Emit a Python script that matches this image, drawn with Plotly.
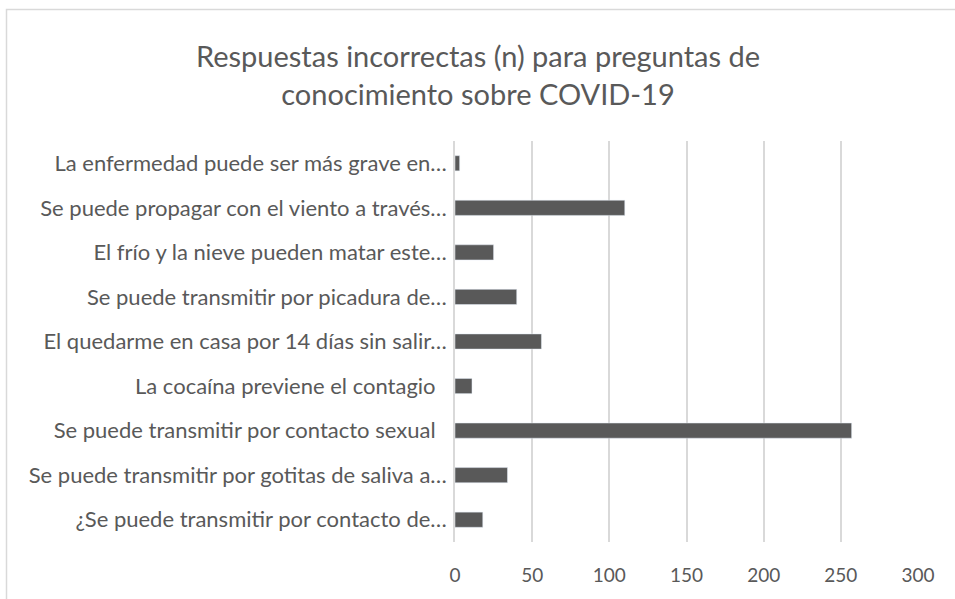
import plotly.graph_objects as go

categories = [
    "¿Se puede transmitir por contacto de…",
    "Se puede transmitir por gotitas de saliva a…",
    "Se puede transmitir por contacto sexual\u00a0\u00a0",
    "La cocaína previene el contagio\u00a0\u00a0",
    "El quedarme en casa por 14 días sin salir…",
    "Se puede transmitir por picadura de…",
    "El frío y la nieve pueden matar este…",
    "Se puede propagar con el viento a través…",
    "La enfermedad puede ser más grave en…",
]
values = [18, 34, 257, 11, 56, 40, 25, 110, 3]
x_ticks = [0, 50, 100, 150, 200, 250, 300]

W, H = 955, 599
L, R, T, B = 455, 918, 141, 542

fig = go.Figure(go.Bar(
    y=categories, x=values, orientation="h",
    marker=dict(color="#595959"),
    width=0.34,
))

def px_x(p):
    return (p - L) / (R - L)

def px_y(p):
    return (B - p) / (B - T)

fig.add_shape(type="rect", xref="paper", yref="paper",
              x0=px_x(6.5), x1=px_x(960), y0=px_y(610), y1=px_y(9.5),
              line=dict(color="#d9d9d9", width=1.5), fillcolor="rgba(0,0,0,0)", layer="below")

fig.update_layout(
    width=W, height=H,
    margin=dict(l=L, r=W - R, t=T, b=H - B, pad=0),
    paper_bgcolor="white", plot_bgcolor="white",
    font=dict(family="Lato, Carlito, Calibri, sans-serif", color="#595959", size=22),
    title=dict(text="Respuestas incorrectas (n) para preguntas de<br>conocimiento sobre COVID-19",
               x=px_x(478), xanchor="center", xref="paper",
               y=1 - 67 / H, yanchor="middle",
               font=dict(size=29, color="#595959")),
    xaxis=dict(range=[0, 300], tickvals=x_ticks, showgrid=True, gridcolor="#d9d9d9",
               gridwidth=1.5, zeroline=False, showline=False, ticks="",
               tickfont=dict(size=19), ticklabelstandoff=20),
    yaxis=dict(showgrid=False, showline=True, linecolor="#d9d9d9", linewidth=1.5,
               ticks="", tickfont=dict(size=22), ticklabelstandoff=2,
               categoryorder="array", categoryarray=categories),
    bargap=0.66,
    showlegend=False,
)

fig.write_html("out.html", post_script="document.body.style.margin='0';",
               config={"displayModeBar": False})
